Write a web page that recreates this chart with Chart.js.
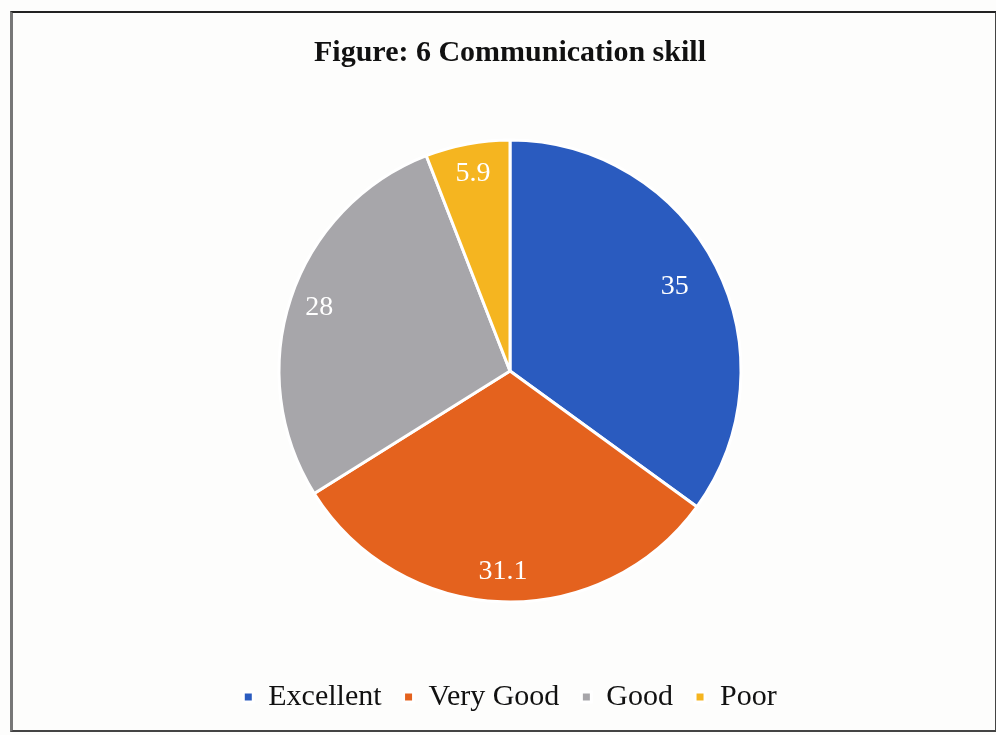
<!DOCTYPE html>
<html>
<head>
<meta charset="utf-8">
<script src="https://cdn.jsdelivr.net/npm/chart.js@4.4.1/dist/chart.umd.min.js"></script>
<style>
  html, body { margin: 0; padding: 0; background: #fdfdfc; overflow: hidden; }
  #wrap { position: relative; width: 996px; height: 735px; }
  #frame {
    position: absolute; left: 10px; top: 11px; width: 982px; height: 717px;
    border-top: 2px solid #222; border-left: 3px solid #777;
    border-bottom: 2px solid #444; border-right: 2px solid #444;
    pointer-events: none;
  }
</style>
</head>
<body>
<div id="wrap">
  <canvas id="pieChart" width="996" height="735"></canvas>
  <div id="frame"></div>
</div>
<script>
// data
const categories = ['Excellent', 'Very Good', 'Good', 'Poor'];
const percentages = [35, 31.1, 28, 5.9];
const sliceColors = ['#2a5bbf', '#e4621e', '#a7a6aa', '#f5b520'];

// values written inside each slice
const sliceLabels = {
  id: 'sliceLabels',
  afterDatasetsDraw(chart) {
    const ctx = chart.ctx;
    const meta = chart.getDatasetMeta(0);
    ctx.save();
    ctx.fillStyle = '#ffffff';
    ctx.font = '28px "Liberation Serif", "Times New Roman", serif';
    ctx.textAlign = 'center';
    ctx.textBaseline = 'middle';
    meta.data.forEach((arc, i) => {
      const mid = (arc.startAngle + arc.endAngle) / 2;
      const r = arc.outerRadius * (i === 0 ? 0.8 : 0.87);
      const x = arc.x + Math.cos(mid) * r;
      const y = arc.y + Math.sin(mid) * r;
      ctx.fillText(String(percentages[i]), x, y);
    });
    ctx.restore();
  }
};

new Chart(document.getElementById('pieChart').getContext('2d'), {
  type: 'pie',
  data: {
    labels: categories,
    datasets: [{
      data: percentages,
      backgroundColor: sliceColors,
      borderColor: '#ffffff',
      borderWidth: 3
    }]
  },
  options: {
    responsive: false,
    animation: false,
    radius: 231,
    layout: { padding: { left: 24, right: 0, top: 0, bottom: 13 } },
    plugins: {
      title: {
        display: true,
        text: 'Figure: 6 Communication skill',
        color: '#111',
        font: { family: '"Liberation Serif", "Times New Roman", serif', size: 30, weight: 'bold' },
        padding: { top: 35, bottom: 11 }
      },
      legend: {
        position: 'bottom',
        labels: {
          color: '#111',
          font: { family: '"Liberation Serif", "Times New Roman", serif', size: 30 },
          boxWidth: 10,
          boxHeight: 10,
          padding: 22
        }
      },
      tooltip: { enabled: false }
    }
  },
  plugins: [sliceLabels]
});
</script>
</body>
</html>
